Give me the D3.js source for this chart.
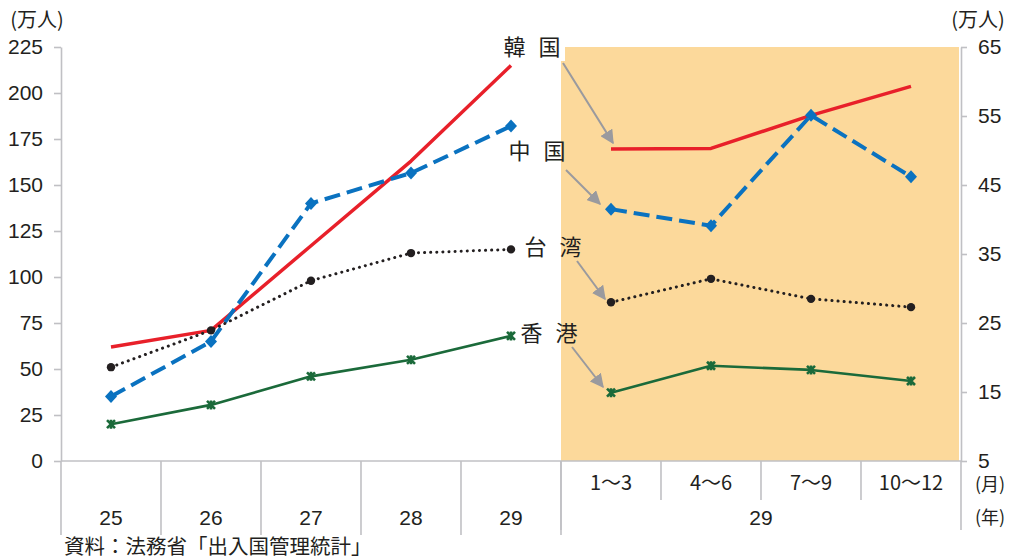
<!DOCTYPE html>
<html><head><meta charset="utf-8">
<script src="https://cdn.jsdelivr.net/npm/d3@7"></script>
<style>
body{margin:0;background:#fff;}
svg text{font-family:"Liberation Sans",Arial,sans-serif;fill:#231f20;}
.cjk{font-family:"Noto Sans CJK JP","Noto Sans",sans-serif;}
</style></head>
<body><svg id="c" width="1011" height="560"></svg>
<script>
const years = ["25","26","27","28","29"];
const quarters = ["1～3","4～6","7～9","10～12"];
const leftTicks = [0,25,50,75,100,125,150,175,200,225];
const rightTicks = [5,15,25,35,45,55,65];
const seriesNames = ["韓 国","中 国","台 湾","香 港"];
const koreaYear = [62,71,117,163,215];
const chinaYear = [35,65,140,156.5,182];
const taiwanYear = [51,71,98,113,115];
const hkYear = [20,30.5,46,55,68];
const koreaQ = [50.2,50.3,55.1,59.3];
const chinaQ = [41.5,39.1,55.1,46.2];
const taiwanQ = [28.0,31.4,28.5,27.3];
const hkQ = [14.9,18.8,18.2,16.6];

const svg = d3.select("#c");
const xL = d3.scaleBand().domain(years).range([61,561]);
const xR = d3.scaleBand().domain(quarters).range([561,961]);
const yL = d3.scaleLinear().domain([0,225]).range([461,47]);
const yR = d3.scaleLinear().domain([5,65]).range([461,47]);
const grid = "#c0c0c4";

// shaded area
svg.append("rect").attr("x",xR.range()[0]).attr("y",yR(65)).attr("width",xR.range()[1]-2-xR.range()[0]).attr("height",yR(5)-yR(65)).attr("fill","#fcd99b");

// axes
const gl = svg.append("g").attr("transform","translate(61,0)").call(d3.axisLeft(yL).tickValues(leftTicks).tickSize(7).tickSizeOuter(0).tickPadding(11));
const gr = svg.append("g").attr("transform","translate(961,0)").call(d3.axisRight(yR).tickValues(rightTicks).tickSize(6).tickSizeOuter(0).tickPadding(11));
[gl,gr].forEach(g=>{
  g.selectAll("path,line").attr("stroke",grid).attr("stroke-width",1.6);
  g.selectAll("text").attr("font-size",21).attr("fill","#231f20").attr("font-family","Liberation Sans, Arial, sans-serif");
});
// baseline
svg.append("line").attr("x1",61).attr("x2",961).attr("y1",yL(0)).attr("y2",yL(0)).attr("stroke",grid).attr("stroke-width",1.6);

// category dividers
const lb = years.map(d=>xL(d)).concat([xL.range()[1]]);
svg.selectAll(".ldiv").data(lb).join("line").attr("x1",d=>d).attr("x2",d=>d).attr("y1",461).attr("y2",535).attr("stroke",grid).attr("stroke-width",1.6);
const rb = quarters.map(d=>xR(d)).concat([xR.range()[1]]);
svg.selectAll(".rdiv").data(rb).join("line").attr("x1",d=>d).attr("x2",d=>d).attr("y1",461).attr("y2",(d,i)=>(i==0||i==rb.length-1)?530:500).attr("stroke",grid).attr("stroke-width",1.6);

// category labels
svg.selectAll(".yl").data(years).join("text").attr("x",d=>xL(d)+xL.bandwidth()/2).attr("y",518).attr("dy","0.35em").attr("text-anchor","middle").attr("font-size",21).text(d=>d);
svg.selectAll(".ql").data(quarters).join("text").attr("class","cjk").attr("x",d=>xR(d)+xR.bandwidth()/2).attr("y",483).attr("dy","0.35em").attr("text-anchor","middle").attr("font-size",20).text(d=>d);
svg.append("text").attr("x",(xR.range()[0]+xR.range()[1])/2).attr("y",518).attr("dy","0.35em").attr("text-anchor","middle").attr("font-size",21).text("29");
svg.append("text").attr("class","cjk").attr("x",990).attr("y",485).attr("dy","0.35em").attr("text-anchor","middle").attr("font-size",18).text("(月)");
svg.append("text").attr("class","cjk").attr("x",990).attr("y",518).attr("dy","0.35em").attr("text-anchor","middle").attr("font-size",18).text("(年)");
svg.append("text").attr("class","cjk").attr("x",37).attr("y",20).attr("dy","0.35em").attr("text-anchor","middle").attr("font-size",20).text("(万人)");
svg.append("text").attr("class","cjk").attr("x",978).attr("y",20).attr("dy","0.35em").attr("text-anchor","middle").attr("font-size",20).text("(万人)");
svg.append("text").attr("class","cjk").attr("x",64).attr("y",547).attr("dy","0.35em").attr("font-size",20.5).attr("fill","#444").text("資料：法務省「出入国管理統計」");

// series
const series = [
 {y:koreaYear,q:koreaQ,color:"#e8202a",w:3.5,dash:null,mark:null},
 {y:chinaYear,q:chinaQ,color:"#0a72c0",w:4,dash:"16 7",mark:"diamond"},
 {y:taiwanYear,q:taiwanQ,color:"#231f20",w:3,dash:"0.1 6",mark:"circle"},
 {y:hkYear,q:hkQ,color:"#1b6a3a",w:2.6,dash:null,mark:"star"}
];
const lineL = d3.line().x((d,i)=>xL(years[i])+xL.bandwidth()/2).y(d=>yL(d));
const lineR = d3.line().x((d,i)=>xR(quarters[i])+xR.bandwidth()/2).y(d=>yR(d));
function drawMarks(pts,s){
  const g = svg.append("g");
  pts.forEach(p=>{
    if(s.mark=="diamond") g.append("path").attr("d",`M${p[0]},${p[1]-6.5}L${p[0]+6},${p[1]}L${p[0]},${p[1]+6.5}L${p[0]-6},${p[1]}Z`).attr("fill",s.color);
    else if(s.mark=="circle") g.append("circle").attr("cx",p[0]).attr("cy",p[1]).attr("r",4.2).attr("fill",s.color);
    else if(s.mark=="star") g.append("path").attr("d",`M${p[0]-4},${p[1]-4}L${p[0]+4},${p[1]+4}M${p[0]+4},${p[1]-4}L${p[0]-4},${p[1]+4}M${p[0]},${p[1]-4.5}L${p[0]},${p[1]+4.5}`).attr("stroke",s.color).attr("stroke-width",2.6).attr("fill","none");
  });
}
series.forEach(s=>{
  [[s.y,lineL,(d,i)=>[xL(years[i])+xL.bandwidth()/2,yL(d)]],[s.q,lineR,(d,i)=>[xR(quarters[i])+xR.bandwidth()/2,yR(d)]]].forEach(([data,gen,pt])=>{
    const p = svg.append("path").attr("d",gen(data)).attr("fill","none").attr("stroke",s.color).attr("stroke-width",s.w).attr("stroke-linejoin","round");
    if(s.dash){p.attr("stroke-dasharray",s.dash);}
    if(s.mark=="circle") p.attr("stroke-linecap","round");
    drawMarks(data.map(pt),s);
  });
});

// labels & arrows
const defs = svg.append("defs");
defs.append("marker").attr("id","ah").attr("viewBox","0 0 10 10").attr("refX",9).attr("refY",5).attr("markerWidth",14).attr("markerHeight",14).attr("orient","auto").attr("markerUnits","userSpaceOnUse")
  .append("path").attr("d","M0,0L10,5L0,10Z").attr("fill","#9a9a9e");
svg.append("rect").attr("x",498).attr("y",30).attr("width",67).attr("height",31).attr("fill","#fff");
const labelPos = [[532,47],[537,151],[553,247],[549,333]];
const arrows = [[563,63,613,143],[566,170,600,204],[577,261,605,299],[572,347,603,387]];
seriesNames.forEach((n,i)=>{
  svg.append("text").attr("class","cjk").attr("x",labelPos[i][0]).attr("y",labelPos[i][1]).attr("dy","0.35em").attr("text-anchor","middle").attr("font-size",22).attr("word-spacing",8).attr("fill","#333").text(n);
  const a = arrows[i];
  svg.append("line").attr("x1",a[0]).attr("y1",a[1]).attr("x2",a[2]).attr("y2",a[3]).attr("stroke","#9a9a9e").attr("stroke-width",2).attr("marker-end","url(#ah)");
});
</script></body></html>
